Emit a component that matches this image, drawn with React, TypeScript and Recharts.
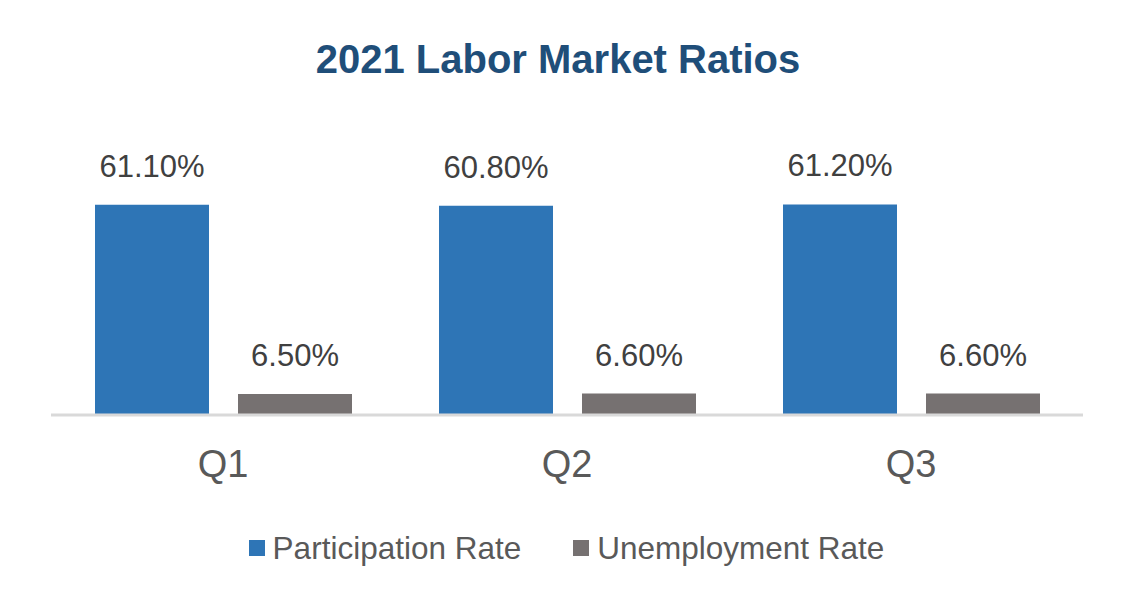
import { Bar, BarChart, LabelList, Legend, XAxis, YAxis } from "recharts";

const quarters = ["Q1", "Q2", "Q3"];
const participationRate = [61.1, 60.8, 61.2];
const unemploymentRate = [6.5, 6.6, 6.6];
const seriesNames = ["Participation Rate", "Unemployment Rate"];
const seriesColors = ["#2E75B6", "#767171"];

const FONT = '"Liberation Sans", Arial, sans-serif';

const chartData = quarters.map((q, i) => ({
  quarter: q,
  participation: participationRate[i],
  unemployment: unemploymentRate[i],
}));

const pct = (v: unknown) => `${Number(v).toFixed(2)}%`;

function LegendBox() {
  return (
    <div
      style={{
        height: 40,
        display: "flex",
        justifyContent: "center",
        alignItems: "center",
        fontFamily: FONT,
        fontSize: 31.5,
        color: "#595959",
      }}
    >
      {seriesNames.map((name, i) => (
        <div
          key={name}
          style={{ display: "flex", alignItems: "center", marginLeft: i > 0 ? 52 : 0 }}
        >
          <span
            style={{
              width: 16,
              height: 16,
              background: seriesColors[i],
              marginRight: 8,
              display: "inline-block",
            }}
          />
          <span>{name}</span>
        </div>
      ))}
    </div>
  );
}

export default function App() {
  return (
    <div style={{ position: "absolute", left: 0, top: 0, width: 1133, height: 608, background: "#fff" }}>
      <div
        style={{
          position: "absolute",
          left: 0,
          top: 39,
          width: 1116,
          textAlign: "center",
          fontFamily: FONT,
          fontWeight: "bold",
          fontSize: 40,
          lineHeight: "40px",
          color: "#1F4E79",
        }}
      >
        2021 Labor Market Ratios
      </div>
      <BarChart
        width={1133}
        height={608}
        data={chartData}
        margin={{ top: 174, right: 50, bottom: 93, left: 51 }}
        barCategoryGap={44}
        barGap={29}
      >
        <XAxis
          dataKey="quarter"
          height={60}
          axisLine={{ stroke: "#D9D9D9", strokeWidth: 3 }}
          tickLine={false}
          tickMargin={29}
          tick={{ fontSize: 38, fill: "#595959", fontFamily: FONT }}
        />
        <YAxis hide domain={[0.4, 70]} allowDataOverflow />
        <Legend
          verticalAlign="bottom"
          content={() => <LegendBox />}
          wrapperStyle={{ top: 528, bottom: "auto", left: 0, width: 1133 }}
        />
        <Bar
          dataKey="participation"
          name={seriesNames[0]}
          fill={seriesColors[0]}
          isAnimationActive={false}
        >
          <LabelList
            dataKey="participation"
            position="top"
            offset={28}
            formatter={pct}
            style={{ fontSize: 31, fill: "#404040", fontFamily: FONT }}
          />
        </Bar>
        <Bar
          dataKey="unemployment"
          name={seriesNames[1]}
          fill={seriesColors[1]}
          isAnimationActive={false}
        >
          <LabelList
            dataKey="unemployment"
            position="top"
            offset={28}
            formatter={pct}
            style={{ fontSize: 31, fill: "#404040", fontFamily: FONT }}
          />
        </Bar>
      </BarChart>
    </div>
  );
}
